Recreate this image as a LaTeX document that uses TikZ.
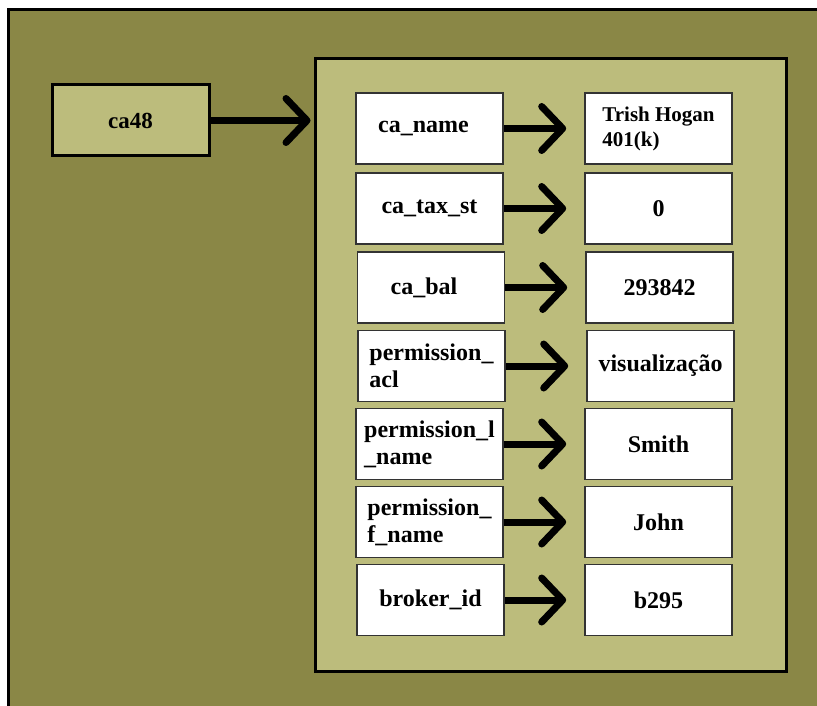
\documentclass[tikz,border=0pt]{standalone}
\usepackage{fontspec}
\setmainfont{Liberation Serif}
\usetikzlibrary{arrows.meta}
\definecolor{outerolive}{HTML}{8A8746}
\definecolor{innerolive}{HTML}{BCBC7C}
\definecolor{boxline}{HTML}{333333}
\tikzset{
  field/.style={draw=boxline, line width=1.6pt, fill=white, minimum width=147pt, minimum height=71pt, inner sep=0pt, align=left,
    font=\fontsize{24}{27}\selectfont\bfseries},
  valbox/.style={field},
  ptr/.style={line width=7pt, -{Straight Barb[length=21pt,width=44pt,round]}},
}
\begin{document}
\begin{tikzpicture}[x=1pt,y=-1pt]
\useasboundingbox (0,0) rectangle (817,706);
\fill[white] (0,0) rectangle (817,706);
\begin{scope}
\clip (0,0) rectangle (817,706);
\draw[line width=3pt, fill=outerolive] (8.5,10) rectangle (830,720);
\end{scope}
\node[draw=black, line width=3pt, fill=innerolive, minimum width=471pt, minimum height=612pt, inner sep=0pt] (inner) at (550.5,365) {};
\node[draw=black, line width=3pt, fill=innerolive, minimum width=157pt, minimum height=71pt, inner sep=0pt,
  font=\fontsize{23}{26}\selectfont\bfseries] (ca48) at (130.5,120.5) {ca48};
\draw[ptr, shorten >=3pt] (ca48.east) -- (ca48.east -| inner.west);

% keys
\node[field] (k1) at (429.5,128.5) {ca\_name\hspace{12pt}};
\node[field] (k2) at (429.5,208.5) {ca\_tax\_st};
\node[field] (k3) at (431,287.5) {ca\_bal\hspace{14pt}};
\node[field] (k4) at (431.5,366) {permission\_\\acl};
\node[field] (k5) at (429.5,444) {permission\_l\\\_name};
\node[field] (k6) at (429.5,522) {permission\_\\f\_name};
\node[field] (k7) at (430.5,600) {broker\_id};
% values
\node[valbox, font=\fontsize{21}{25}\selectfont\bfseries] (v1) at (658.5,128.5) {Trish Hogan\\401(k)\hspace{8pt}};
\node[valbox] (v2) at (658.5,208.5) {0};
\node[valbox] (v3) at (659.5,287.5) {293842};
\node[valbox] (v4) at (660.5,366) {visualização};
\node[valbox] (v5) at (658.5,444) {Smith};
\node[valbox] (v6) at (658.5,522) {John};
\node[valbox] (v7) at (658.5,600) {b295};

\foreach \i in {1,...,7}{
  \draw[ptr, shorten >=18pt] (k\i.east) -- (v\i.west);
}
\end{tikzpicture}
\end{document}
